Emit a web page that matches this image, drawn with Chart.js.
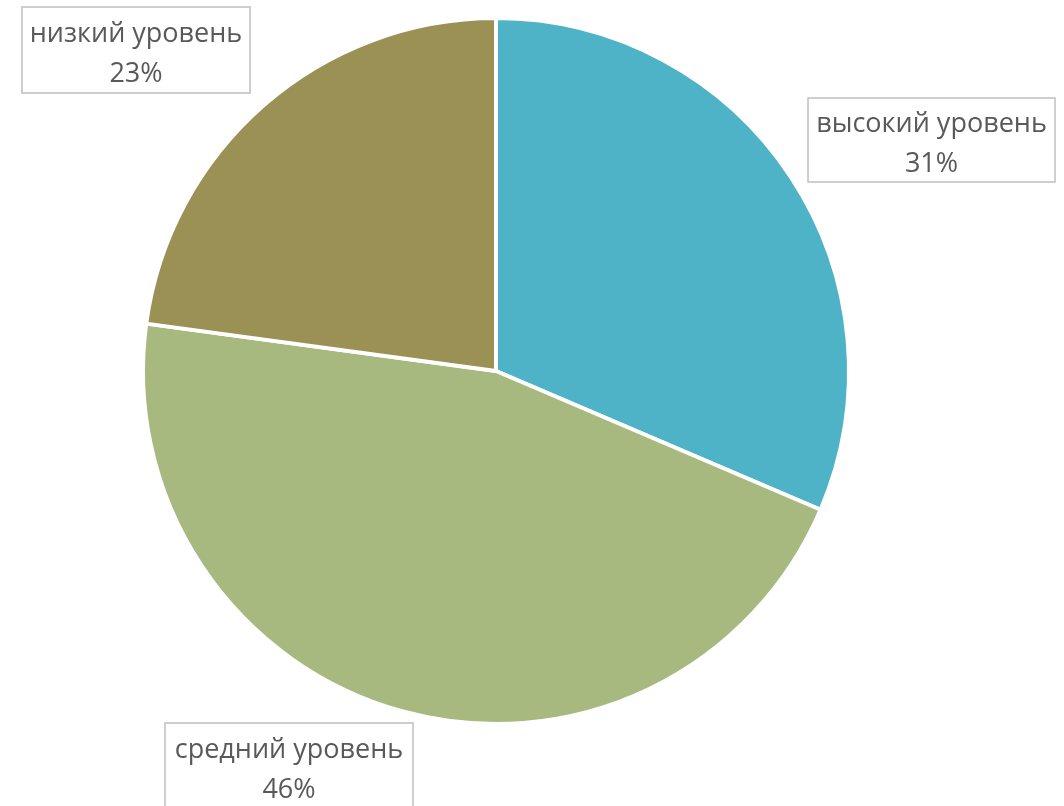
<!DOCTYPE html>
<html>
<head>
<meta charset="utf-8">
<script src="https://cdn.jsdelivr.net/npm/chart.js@4"></script>
<style>
html,body{margin:0;padding:0;background:#fff;}
#wrap{width:1064px;height:806px;}
</style>
</head>
<body>
<div id="wrap"><canvas id="c" width="1064" height="806"></canvas></div>
<script>
const categories = ['высокий уровень', 'средний уровень', 'низкий уровень'];
const values = [11, 16, 8];
const colors = ['#4FB3C8', '#A8B97F', '#9C9155'];

// label box layout (center x, center y, width, height)
const labelBoxes = [
  {cx: 931.5, cy: 140, w: 247, h: 84},
  {cx: 289, cy: 766, w: 248, h: 86},
  {cx: 136, cy: 50, w: 228, h: 86}
];

const boxLabels = {
  id: 'boxLabels',
  afterDatasetsDraw(chart) {
    const ctx = chart.ctx;
    const ds = chart.data.datasets[0];
    const total = ds.data.reduce((a, b) => a + b, 0);
    ctx.save();
    chart.data.labels.forEach((lab, i) => {
      const b = labelBoxes[i];
      ctx.fillStyle = '#ffffff';
      ctx.fillRect(b.cx - b.w / 2, b.cy - b.h / 2, b.w, b.h);
      ctx.strokeStyle = '#BFBFBF';
      ctx.lineWidth = 1.5;
      ctx.strokeRect(b.cx - b.w / 2, b.cy - b.h / 2, b.w, b.h);
      ctx.fillStyle = '#595959';
      ctx.font = '27px "Open Sans", sans-serif';
      ctx.textAlign = 'center';
      ctx.textBaseline = 'alphabetic';
      const pct = Math.round(ds.data[i] / total * 100) + '%';
      ctx.fillText(lab, b.cx, b.cy - 8);
      ctx.fillText(pct, b.cx, b.cy + 32);
    });
    ctx.restore();
  }
};

new Chart(document.getElementById('c'), {
  type: 'pie',
  data: {
    labels: categories,
    datasets: [{
      data: values,
      backgroundColor: colors,
      borderColor: '#ffffff',
      borderWidth: 4
    }]
  },
  options: {
    responsive: false,
    animation: false,
    layout: { padding: { left: 141, right: 213, top: 16, bottom: 80 } },
    plugins: {
      legend: { display: false },
      tooltip: { enabled: false }
    }
  },
  plugins: [boxLabels]
});
</script>
</body>
</html>
